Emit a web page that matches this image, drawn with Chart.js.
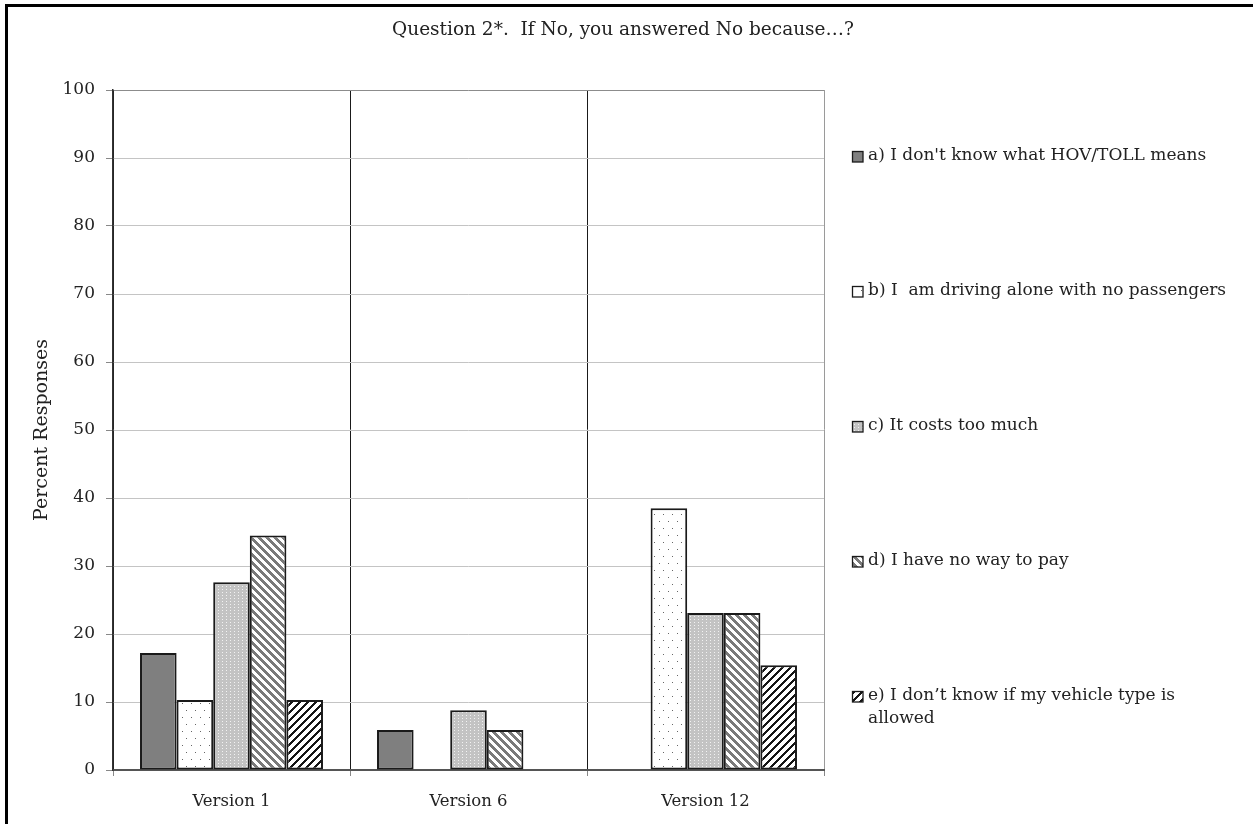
<!DOCTYPE html>
<html>
<head>
<meta charset="utf-8">
<script src="https://cdn.jsdelivr.net/npm/chart.js"></script>
<style>
    body {
        margin: 0;
        background: #fff;
    }

    #wrap {
        width: 1253px;
        height: 824px;
        position: relative;
    }
</style>
</head>
<body>

<div id="wrap"><canvas id="myChart"></canvas></div>

<script>
    // data
    const categories = ['Version 1', 'Version 6', 'Version 12']
    const answers = [
        "a) I don't know what HOV/TOLL means",
        'b) I  am driving alone with no passengers',
        'c) It costs too much',
        'd) I have no way to pay',
        'e) I don\u2019t know if my vehicle type is allowed'
    ]
    const answerA = [17.2, 5.9, 0]
    const answerB = [10.3, 0, 38.5]
    const answerC = [27.6, 8.8, 23.1]
    const answerD = [34.5, 5.9, 23.1]
    const answerE = [10.3, 0, 15.4]
    const yMin = 0
    const yMax = 100
    const yStep = 10
    const chartTitle = 'Question 2*.  If No, you answered No because\u2026?'
    const yTitle = 'Percent Responses'

    const serif = 'DejaVu Serif'
    const textColor = '#222'

    // fill patterns for the bars
    function makeTile(w, h, paint) {
        const c = document.createElement('canvas')
        c.width = w
        c.height = h
        const g = c.getContext('2d')
        paint(g)
        return g.createPattern(c, 'repeat')
    }

    function stripes(size, fg, bg, width, dir) {
        return makeTile(size, size, g => {
            g.fillStyle = bg
            g.fillRect(0, 0, size, size)
            g.fillStyle = fg
            for (let y = 0; y < size; y++) {
                for (let x = 0; x < size; x++) {
                    let k = dir > 0 ? (x + y) % size : ((x - y) % size + size) % size
                    if (k < width) g.fillRect(x, y, 1, 1)
                }
            }
        })
    }

    const fillA = '#7f7f7f'
    const fillB = makeTile(9, 14, g => {
        g.fillStyle = '#fff'
        g.fillRect(0, 0, 9, 14)
        g.fillStyle = '#666'
        g.fillRect(2, 3, 1, 1)
        g.fillRect(6, 10, 1, 1)
    })
    const fillC = makeTile(4, 3, g => {
        g.fillStyle = '#c3c3c3'
        g.fillRect(0, 0, 4, 3)
        g.fillStyle = '#f2f2f2'
        g.fillRect(2, 1, 1, 1)
    })
    const fillD = stripes(8, '#7a7a7a', '#fff', 4, -1)
    const fillE = stripes(8, '#151515', '#fff', 3, 1)

    const series = [answerA, answerB, answerC, answerD, answerE]
    const fills = [fillA, fillB, fillC, fillD, fillE]

    let _datasets = []
    for (let i = 0; i < answers.length; i++) {
        _datasets.push({
            label: answers[i],
            data: series[i],
            backgroundColor: fills[i],
            borderColor: '#1a1a1a',
            borderWidth: 2,
            borderSkipped: false,
            categoryPercentage: 0.772,
            barPercentage: 1
        })
    }

    // wrap legend text into lines no wider than maxWidth
    function wrapText(ctx, text, maxWidth) {
        const words = text.split(' ')
        let lines = []
        let line = ''
        words.forEach(w => {
            let test = line === '' ? w : line + ' ' + w
            if (line !== '' && w !== '' && ctx.measureText(test).width > maxWidth) {
                lines.push(line)
                line = w
            } else {
                line = test
            }
        })
        lines.push(line)
        return lines
    }

    // frame, title and the spaced-out legend on the right
    const decor = {
        id: 'decor',
        beforeDraw(chart) {
            const ctx = chart.ctx
            ctx.save()
            ctx.fillStyle = '#fff'
            ctx.fillRect(0, 0, chart.width, chart.height)
            ctx.restore()
        },
        afterDraw(chart) {
            const ctx = chart.ctx
            ctx.save()

            ctx.strokeStyle = '#000'
            ctx.lineWidth = 3
            ctx.beginPath()
            ctx.moveTo(6.5, chart.height)
            ctx.lineTo(6.5, 5.5)
            ctx.lineTo(chart.width, 5.5)
            ctx.stroke()

            ctx.fillStyle = textColor
            ctx.font = '18.5px "' + serif + '"'
            ctx.textAlign = 'center'
            ctx.textBaseline = 'middle'
            ctx.fillText(chartTitle, 623, 30)

            const boxX = 852
            const textX = 868
            const legendTop = 156
            const legendGap = 135
            ctx.font = '17px "' + serif + '"'
            ctx.textAlign = 'left'
            chart.data.datasets.forEach((ds, i) => {
                let y = legendTop + i * legendGap
                ctx.fillStyle = ds.backgroundColor
                ctx.fillRect(boxX, y - 5, 11, 11)
                ctx.strokeStyle = '#1a1a1a'
                ctx.lineWidth = 1.3
                ctx.strokeRect(boxX + 0.5, y - 4.5, 10.5, 10.5)
                ctx.fillStyle = textColor
                let lines = wrapText(ctx, ds.label, 372)
                lines.forEach((l, j) => {
                    ctx.fillText(l, textX, y + j * 23)
                })
            })
            ctx.restore()
        }
    }

    const config = {
        type: 'bar',
        data: {
            labels: categories,
            datasets: _datasets
        },
        options: {
            responsive: true,
            maintainAspectRatio: false,
            animation: false,
            layout: {
                padding: { top: 90, right: 429, bottom: 0, left: 0 }
            },
            plugins: {
                legend: { display: false },
                title: { display: false },
                tooltip: { enabled: false }
            },
            scales: {
                x: {
                    afterFit: s => { s.height = 54 },
                    grid: {
                        offset: true,
                        color: c => c.type === 'tick' ? '#1a1a1a' : '#9a9a9a',
                        lineWidth: 1,
                        drawTicks: true,
                        tickLength: 6,
                        tickColor: '#888'
                    },
                    border: { color: '#555', width: 2 },
                    ticks: {
                        color: textColor,
                        font: { family: serif, size: 16.5 },
                        padding: 16
                    }
                },
                y: {
                    min: yMin,
                    max: yMax,
                    afterFit: s => { s.width = 113 },
                    ticks: {
                        stepSize: yStep,
                        color: textColor,
                        font: { family: serif, size: 17 },
                        padding: 11
                    },
                    grid: {
                        color: c => c.tick && c.tick.value === yMax ? '#8c8c8c' : '#c4c4c4',
                        lineWidth: 1,
                        tickLength: 7,
                        tickColor: '#888'
                    },
                    border: { color: '#333', width: 1.5 },
                    title: {
                        display: true,
                        text: yTitle,
                        color: textColor,
                        font: { family: serif, size: 19 },
                        padding: { top: 31, bottom: 0 }
                    }
                }
            }
        },
        plugins: [decor]
    }

    let myChart = new Chart(document.getElementById('myChart'), config)
</script>
</body>
</html>
